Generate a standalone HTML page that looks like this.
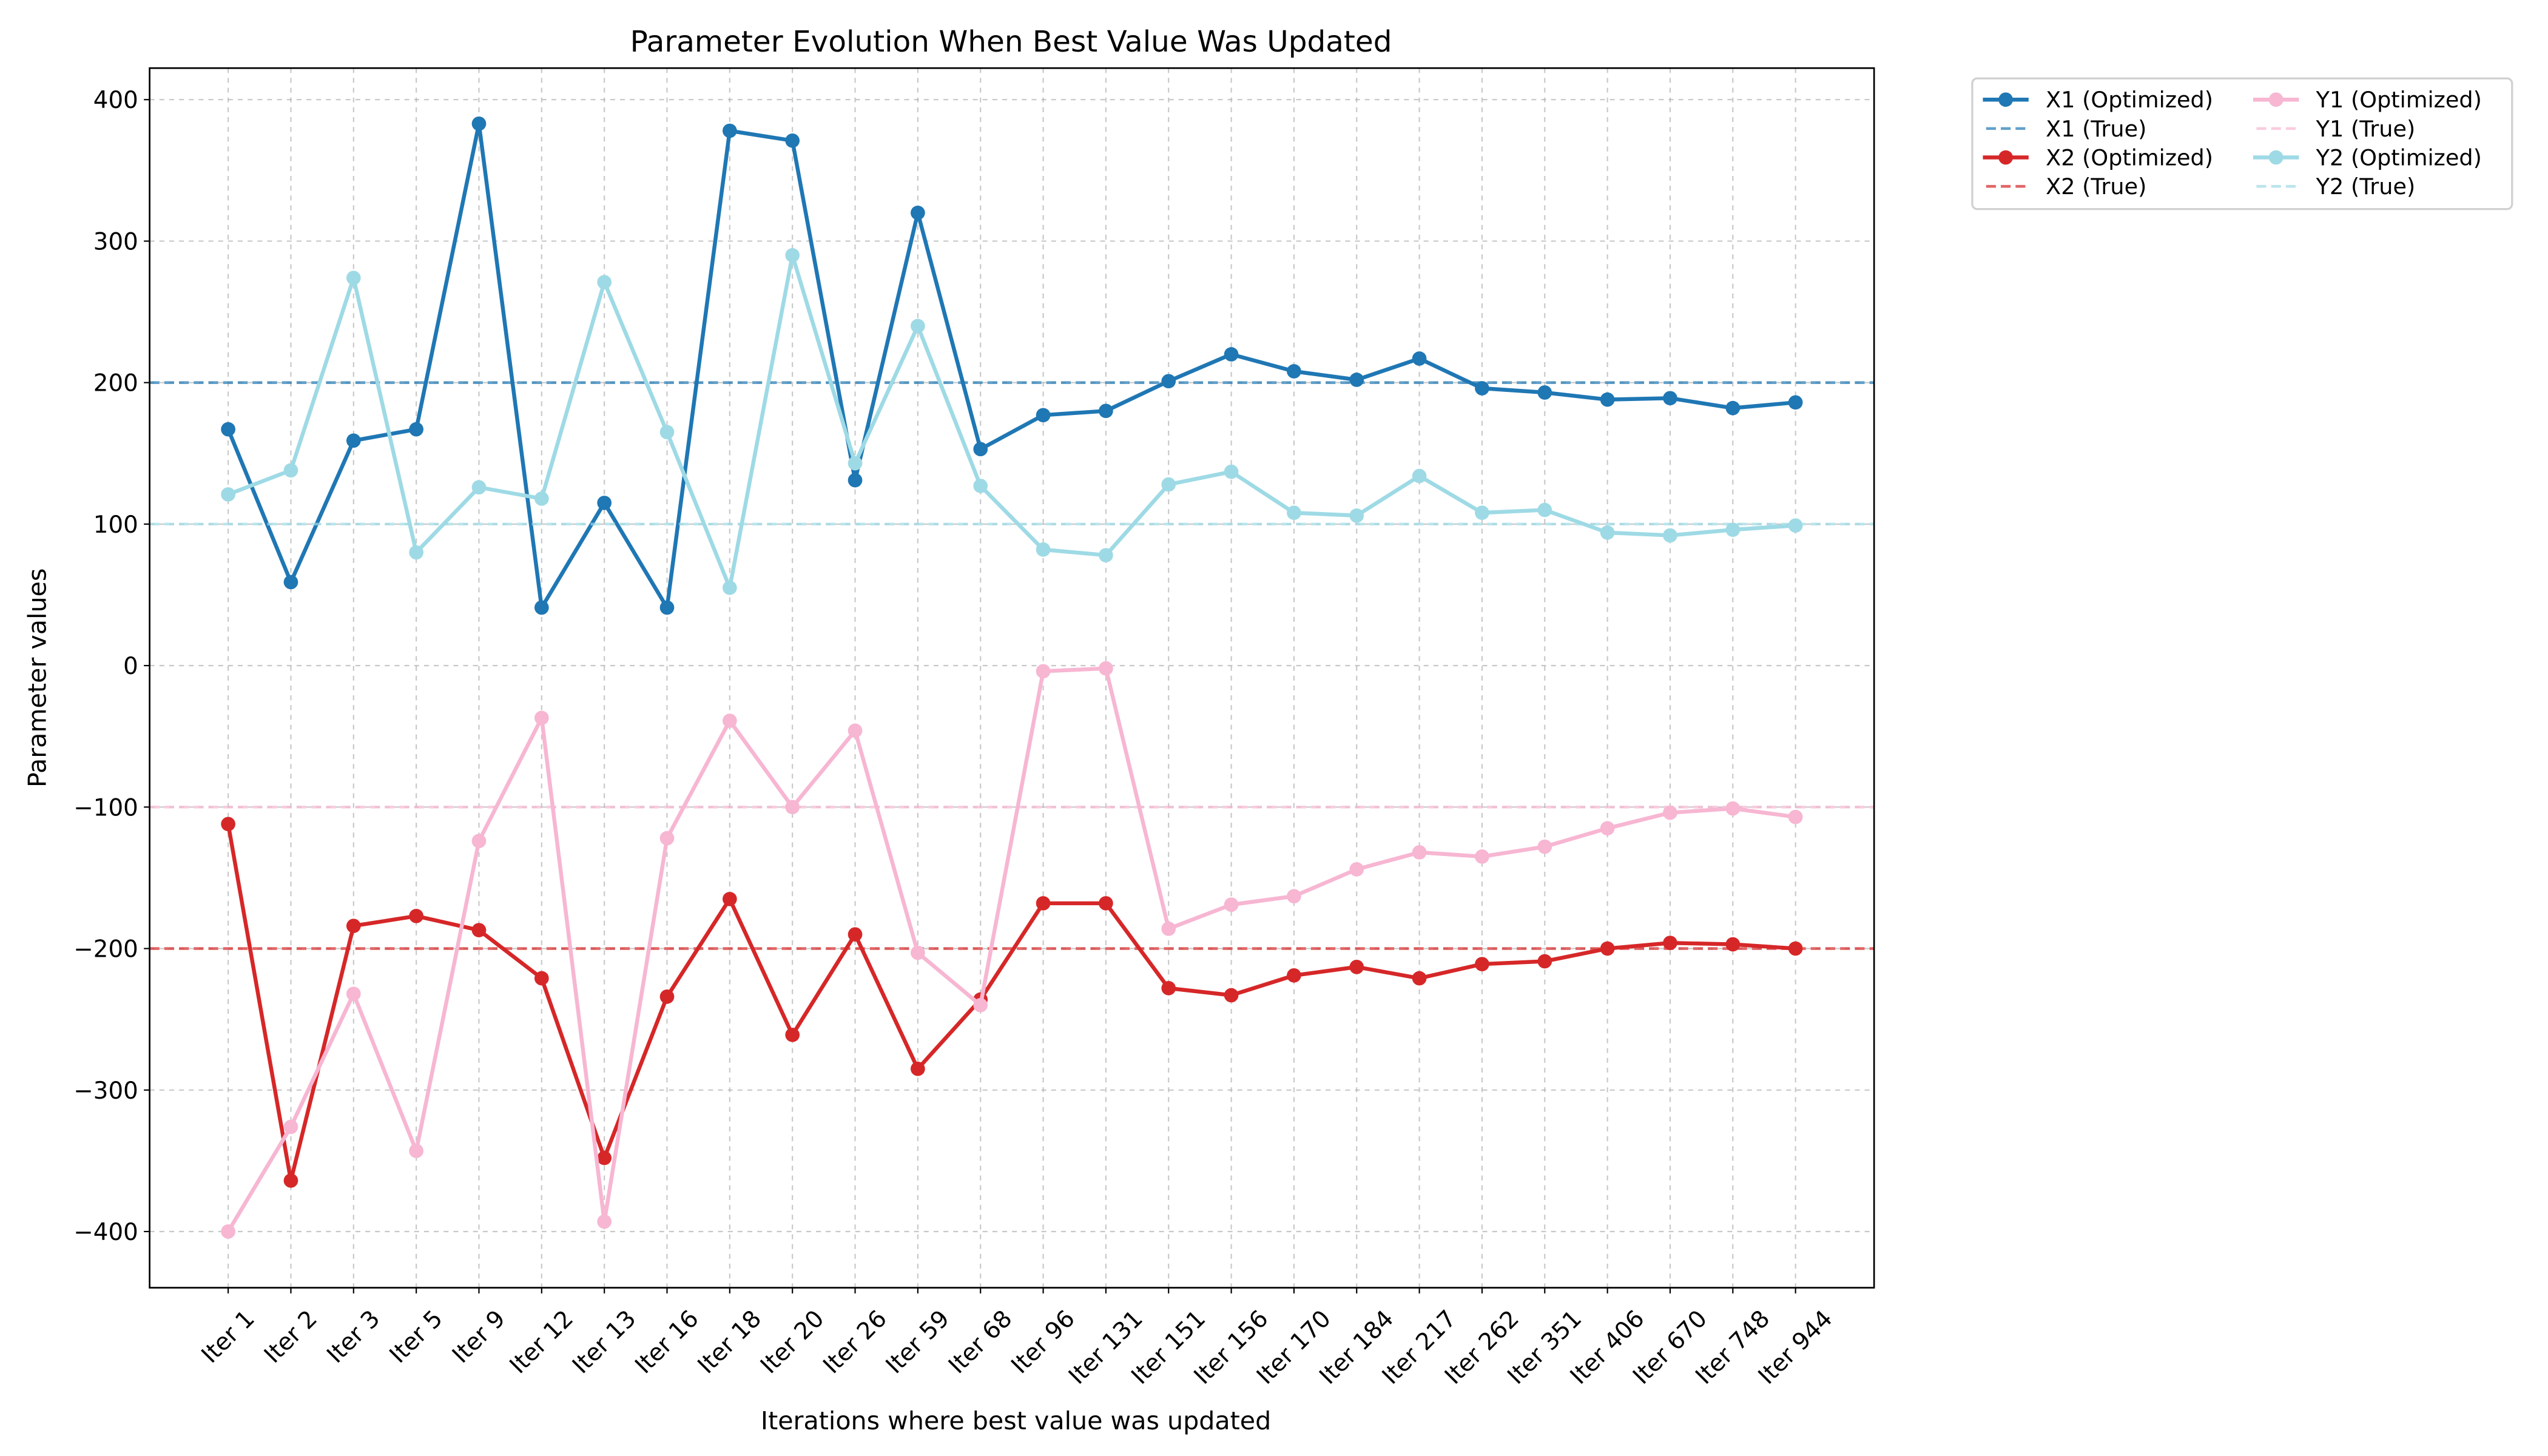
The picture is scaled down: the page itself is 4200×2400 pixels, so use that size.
<!DOCTYPE html>
<html><head><meta charset="utf-8"><style>
html,body{margin:0;padding:0;background:#fff;}
svg{display:block;font-family:"DejaVu Sans","Liberation Sans",sans-serif;}
</style></head><body>
<svg id="chart" xmlns="http://www.w3.org/2000/svg" width="4200" height="2400" viewBox="0 0 1560 891.43">
<rect width="1560" height="891.43" fill="#fff"/>
<g id="grid"></g>
<g id="series"></g>
<rect x="91.6" y="41.7" width="1055.8" height="746.7" fill="none" stroke="#000" stroke-width="1"/>
<g id="axes"></g>
<text x="619" y="31.6" font-size="18" text-anchor="middle">Parameter Evolution When Best Value Was Updated</text>
<text x="622" y="875" font-size="15.3" text-anchor="middle">Iterations where best value was updated</text>
<text transform="translate(28,415) rotate(-90)" font-size="15.3" text-anchor="middle">Parameter values</text>
<g id="legend">
<rect x="1207.5" y="48" width="330.5" height="80" rx="3" fill="#fff" stroke="#d0d0d0" stroke-width="1.2"/>
</g>
</svg>
<script>
const categories=["Iter 1","Iter 2","Iter 3","Iter 5","Iter 9","Iter 12","Iter 13","Iter 16","Iter 18","Iter 20","Iter 26","Iter 59","Iter 68","Iter 96","Iter 131","Iter 151","Iter 156","Iter 170","Iter 184","Iter 217","Iter 262","Iter 351","Iter 406","Iter 670","Iter 748","Iter 944"];
const x1Values=[167,59,159,167,383,41,115,41,378,371,131,320,153,177,180,201,220,208,202,217,196,193,188,189,182,186];
const x2Values=[-112,-364,-184,-177,-187,-221,-348,-234,-165,-261,-190,-285,-236,-168,-168,-228,-233,-219,-213,-221,-211,-209,-200,-196,-197,-200];
const y1Values=[-400,-326,-232,-343,-124,-37,-393,-122,-39,-100,-46,-203,-240,-4,-2,-186,-169,-163,-144,-132,-135,-128,-115,-104,-101,-107];
const y2Values=[121,138,274,80,126,118,271,165,55,290,143,240,127,82,78,128,137,108,106,134,108,110,94,92,96,99];
const trueValues=[200,-200,-100,100];
const yTicks=[-400,-300,-200,-100,0,100,200,300,400];
const yTickLabels=["\u2212400","\u2212300","\u2212200","\u2212100","0","100","200","300","400"];

const NS="http://www.w3.org/2000/svg";
const L=91.6,R=1147.4,T=41.7,B=788.4;
function xs(i){return 139.7+i*(1099.3-139.7)/(categories.length-1);}
function ys(v){return 407.5-v*0.86625;}
function mk(tag,attrs,parent){const e=document.createElementNS(NS,tag);for(const k in attrs)e.setAttribute(k,attrs[k]);parent.appendChild(e);return e;}
const grid=document.getElementById('grid'),axes=document.getElementById('axes'),ser=document.getElementById('series'),leg=document.getElementById('legend');

categories.forEach((c,i)=>{
  const x=xs(i);
  const g=mk('line',{x1:x,x2:x,y1:T,y2:B,stroke:'#b0b0b0','stroke-width':0.8,'stroke-dasharray':'3,3','stroke-opacity':0.7},grid);
  
  
  const t=mk('line',{x1:x,x2:x,y1:B,y2:B+3.5,stroke:'#000','stroke-width':0.8},axes);
  
  
  const wrap=mk('g',{},axes);
  
  
  const lb=mk('text',{transform:'rotate(-45)','font-size':14.4,'text-anchor':'end'},wrap);
  lb.textContent=c;
  
  
  const bb=wrap.getBBox();
  wrap.setAttribute('transform',`translate(${x-(bb.x+bb.width/2)},${799-bb.y})`);
});
yTicks.forEach((v,i)=>{
  const y=ys(v);
  const g=mk('line',{x1:L,x2:R,y1:y,y2:y,stroke:'#b0b0b0','stroke-width':0.8,'stroke-dasharray':'3,3','stroke-opacity':0.7},grid);
  
  
  const t=mk('line',{x1:L-3.5,x2:L,y1:y,y2:y,stroke:'#000','stroke-width':0.8},axes);
  
  
  const lb=mk('text',{x:L-7,y:y+5.2,'font-size':14.4,'text-anchor':'end'},axes);
  lb.textContent=yTickLabels[i];
  
  
});

const series=[
 {name:'x1',vals:x1Values,color:'#1f77b4',tv:trueValues[0],label:'X1'},
 {name:'x2',vals:x2Values,color:'#d62728',tv:trueValues[1],label:'X2'},
 {name:'y1',vals:y1Values,color:'#f7b6d2',tv:trueValues[2],label:'Y1'},
 {name:'y2',vals:y2Values,color:'#9edae5',tv:trueValues[3],label:'Y2'}
];
series.forEach(s=>{
  const pts=s.vals.map((v,i)=>xs(i)+','+ys(v)).join(' ');
  const pl=mk('polyline',{points:pts,fill:'none',stroke:s.color,'stroke-width':2.4,'stroke-linejoin':'round'},ser);
  
  
  s.vals.forEach((v,i)=>{
    const c=mk('circle',{cx:xs(i),cy:ys(v),r:4.4,fill:s.color},ser);
    
    
  });
  const tl=mk('line',{x1:L,x2:R,y1:ys(s.tv),y2:ys(s.tv),stroke:s.color,'stroke-width':1.7,'stroke-dasharray':'6,3','stroke-opacity':0.7},ser);
  
  
});

series.forEach((s,si)=>{
  const col=si<2?0:1, row0=(si%2)*2;
  const bx=1214+col*165.5;
  [0,1].forEach(k=>{
    const y=61+(row0+k)*17.7;
    if(k===0){
      const l=mk('line',{x1:bx,x2:bx+28,y1:y,y2:y,stroke:s.color,'stroke-width':2.4},leg);
      
      
      const c=mk('circle',{cx:bx+14,cy:y,r:4.4,fill:s.color},leg);
      
      
    } else {
      const l=mk('line',{x1:bx+2,x2:bx+28,y1:y,y2:y,stroke:s.color,'stroke-width':1.7,'stroke-dasharray':'6,3','stroke-opacity':0.7},leg);
      
      
    }
    const t=mk('text',{x:bx+38.5,y:y+4.8,'font-size':13.6},leg);
    t.textContent=s.label+(k===0?' (Optimized)':' (True)');
    
    
  });
});
</script>
</body></html>
